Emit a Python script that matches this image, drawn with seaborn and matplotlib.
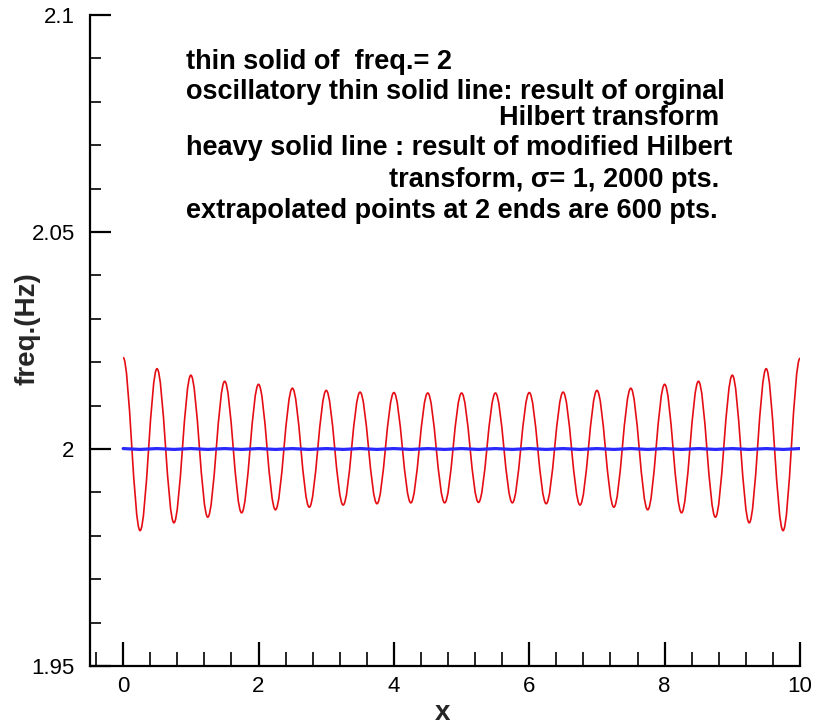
import numpy as np
import pandas as pd
import matplotlib
matplotlib.use("Agg")
import matplotlib.pyplot as plt
import seaborn as sns
from matplotlib.path import Path
from matplotlib.patches import PathPatch
from matplotlib.ticker import MultipleLocator, FixedLocator

# ---- data ----
# oscillatory thin red line (original Hilbert transform): extrema
peak_x = [0.0, 0.5, 1.0, 1.5, 2.0, 2.5, 3.0, 3.5, 4.0, 4.5, 5.0,
          5.5, 6.0, 6.5, 7.0, 7.5, 8.0, 8.5, 9.0, 9.5, 10.0]
peak_y = [2.0211, 2.0185, 2.0170, 2.0156, 2.0149, 2.0140, 2.0135, 2.0131, 2.0130, 2.0129, 2.0129,
          2.0129, 2.0130, 2.0131, 2.0135, 2.0140, 2.0149, 2.0156, 2.0170, 2.0185, 2.0209]
trough_x = [0.25, 0.75, 1.25, 1.75, 2.25, 2.75, 3.25, 3.75, 4.25, 4.75,
            5.25, 5.75, 6.25, 6.75, 7.25, 7.75, 8.25, 8.75, 9.25, 9.75]
trough_y = [1.9812, 1.9830, 1.9843, 1.9853, 1.9860, 1.9866, 1.9871, 1.9874, 1.9876, 1.9876,
            1.9877, 1.9876, 1.9874, 1.9871, 1.9866, 1.9860, 1.9853, 1.9843, 1.9830, 1.9812]

# heavy blue line (modified Hilbert transform)
blue_x = [0.0, 0.25, 0.5, 0.75, 1.0, 1.25, 1.5, 1.75, 2.0, 2.25, 2.5, 2.75, 3.0, 3.25,
          3.5, 3.75, 4.0, 4.25, 4.5, 4.75, 5.0, 5.25, 5.5, 5.75, 6.0, 6.25, 6.5, 6.75,
          7.0, 7.25, 7.5, 7.75, 8.0, 8.25, 8.5, 8.75, 9.0, 9.25, 9.5, 9.75, 10.0]
blue_y = [2.0001, 1.9999, 2.0001, 1.9999, 2.0001, 1.9999, 2.0001, 1.9999, 2.0001, 1.9999,
          2.0001, 1.9999, 2.0001, 1.9999, 2.0001, 1.9999, 2.0001, 1.9999, 2.0001, 1.9999,
          2.0001, 1.9999, 2.0001, 1.9999, 2.0001, 1.9999, 2.0001, 1.9999, 2.0001, 1.9999,
          2.0001, 1.9999, 2.0001, 1.9999, 2.0001, 1.9999, 2.0001, 1.9999, 2.0001, 1.9999,
          2.0001]

x_ticks = [0, 2, 4, 6, 8, 10]
y_ticks = [1.95, 2.0, 2.05, 2.1]
y_tick_labels = ["1.95", "2", "2.05", "2.1"]

notes = [
    "thin solid of  freq.= 2",
    "oscillatory thin solid line: result of orginal",
    "Hilbert transform",
    "heavy solid line : result of modified Hilbert",
    "transform, \u03c3= 1, 2000 pts.",
    "extrapolated points at 2 ends are 600 pts.",
]

# ---- styling ----
sns.set_style("ticks")
plt.rcParams["font.family"] = ["Liberation Sans", "DejaVu Sans"]

W, H = 814, 725
fig = plt.figure(figsize=(W / 100, H / 100), dpi=100)
ax = fig.add_axes([90 / W, 1 - 666 / H, 710 / W, 651 / H])

red = "#e50d14"
blue = "#2a2aff"

# red oscillatory curve: smooth path through the extrema
ext = sorted(list(zip(peak_x, peak_y)) + list(zip(trough_x, trough_y)))
verts = [ext[0]]
codes = [Path.MOVETO]
for (x0, y0), (x1, y1) in zip(ext[:-1], ext[1:]):
    h = (x1 - x0) * (1 - 2 / np.pi)
    verts += [(x0 + h, y0), (x1 - h, y1), (x1, y1)]
    codes += [Path.CURVE4] * 3
ax.add_patch(PathPatch(Path(verts, codes), facecolor="none", edgecolor=red,
                       lw=1.2, transform=ax.transData, zorder=2))

df_blue = pd.DataFrame({"x": blue_x, "y": blue_y})
sns.lineplot(data=df_blue, x="x", y="y", ax=ax, color=blue, lw=2.3, zorder=3)

ax.set_xlim(-0.49, 10)
ax.set_ylim(1.95, 2.1)

for s in ["top", "right"]:
    ax.spines[s].set_visible(False)
for s in ["left", "bottom"]:
    ax.spines[s].set_color("black")
    ax.spines[s].set_linewidth(1.6)

ax.xaxis.set_major_locator(FixedLocator(x_ticks))
ax.xaxis.set_minor_locator(MultipleLocator(0.4))
ax.yaxis.set_major_locator(FixedLocator(y_ticks))
ax.set_yticklabels(y_tick_labels)
ax.yaxis.set_minor_locator(MultipleLocator(0.01))
ax.set_xticklabels([str(v) for v in x_ticks])

ax.tick_params(which="both", bottom=True, left=True, top=False, right=False)
ax.tick_params(which="major", direction="in", length=17, width=1.6, color="black",
               labelsize=16, labelcolor="black")
ax.tick_params(which="minor", direction="in", length=10, width=1.2, color="black")
ax.tick_params(axis="y", which="major", pad=11, length=15)
ax.tick_params(axis="y", which="minor", length=8)
ax.tick_params(axis="x", which="major", pad=7)

ax.set_xlabel("x", fontsize=20, fontweight="bold")
ax.set_ylabel("freq.(Hz)", fontsize=20, fontweight="bold")
ax.xaxis.label.set_verticalalignment("baseline")
ax.xaxis.set_label_coords(0.497, -0.083)
ax.yaxis.set_label_coords(-0.07, 0.518)

# annotation block
fs = 19.5
left_lines = {0: 62, 1: 92, 3: 148, 5: 211}
for i, py in left_lines.items():
    fig.text(186 / W, 1 - py / H, notes[i], fontsize=fs, fontweight="bold",
             ha="left", va="center", color="black")
fig.text(719 / W, 1 - 118 / H, notes[2], fontsize=fs, fontweight="bold",
         ha="right", va="center", color="black")
fig.text(719 / W, 1 - 180 / H, notes[4], fontsize=fs, fontweight="bold",
         ha="right", va="center", color="black")

fig.savefig("out.png", dpi=100)
